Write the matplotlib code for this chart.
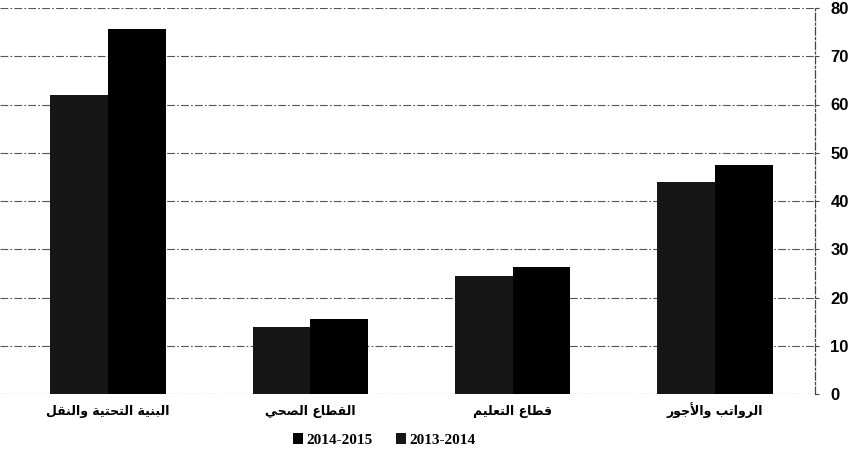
import matplotlib
matplotlib.use("Agg")
import matplotlib.pyplot as plt
import numpy as np
from matplotlib.patches import Patch

# ---------------- data (categories in original right-to-left order) ----------------
categories = ["الرواتب والأجور", "قطاع التعليم", "القطاع الصحي", "البنية التحتية والنقل"]
series_names = ["2013-2014", "2014-2015"]
values_2013_2014 = [44.0, 24.5, 13.9, 61.9]
values_2014_2015 = [47.4, 26.3, 15.6, 75.6]
y_ticks = [0, 10, 20, 30, 40, 50, 60, 70, 80]

# ---------------- simple Arabic shaping (contextual forms + visual order) ----------------
FORMS = {
    'ا': ('\uFE8D', '\uFE8E', None, None),
    'أ': ('\uFE83', '\uFE84', None, None),
    'ب': ('\uFE8F', '\uFE90', '\uFE91', '\uFE92'),
    'ة': ('\uFE93', '\uFE94', None, None),
    'ت': ('\uFE95', '\uFE96', '\uFE97', '\uFE98'),
    'ج': ('\uFE9D', '\uFE9E', '\uFE9F', '\uFEA0'),
    'ح': ('\uFEA1', '\uFEA2', '\uFEA3', '\uFEA4'),
    'ر': ('\uFEAD', '\uFEAE', None, None),
    'ص': ('\uFEB9', '\uFEBA', '\uFEBB', '\uFEBC'),
    'ط': ('\uFEC1', '\uFEC2', '\uFEC3', '\uFEC4'),
    'ع': ('\uFEC9', '\uFECA', '\uFECB', '\uFECC'),
    'ق': ('\uFED5', '\uFED6', '\uFED7', '\uFED8'),
    'ل': ('\uFEDD', '\uFEDE', '\uFEDF', '\uFEE0'),
    'م': ('\uFEE1', '\uFEE2', '\uFEE3', '\uFEE4'),
    'ن': ('\uFEE5', '\uFEE6', '\uFEE7', '\uFEE8'),
    'و': ('\uFEED', '\uFEEE', None, None),
    'ي': ('\uFEF1', '\uFEF2', '\uFEF3', '\uFEF4'),
    'لا': ('\uFEFB', '\uFEFC', None, None),
    'لأ': ('\uFEF7', '\uFEF8', None, None),
}


def shape_arabic(text):
    tokens = []
    i = 0
    while i < len(text):
        if text[i] == 'ل' and i + 1 < len(text) and text[i + 1] in 'اأ':
            tokens.append(text[i:i + 2])
            i += 2
        else:
            tokens.append(text[i])
            i += 1
    out = []
    for k, t in enumerate(tokens):
        if t not in FORMS:
            out.append(t)
            continue
        iso, fin, ini, med = FORMS[t]
        prev = tokens[k - 1] if k > 0 else None
        nxt = tokens[k + 1] if k + 1 < len(tokens) else None
        joins_prev = prev in FORMS and FORMS[prev][2] is not None
        joins_next = ini is not None and nxt in FORMS
        if joins_prev and joins_next:
            out.append(med)
        elif joins_prev:
            out.append(fin)
        elif joins_next:
            out.append(ini)
        else:
            out.append(iso)
    return ''.join(out)[::-1]


# ---------------- figure ----------------
fig = plt.figure(figsize=(8.48, 4.55), dpi=100)
ax = fig.add_axes([0.0, 1 - 394 / 455, 815 / 848, (394 - 8) / 455])

n = len(categories)
x = np.array([n - 1 - i for i in range(n)], dtype=float)  # RTL placement
w = 0.285

ax.bar(x - w / 2, values_2013_2014, width=w, color='#161616', linewidth=0, zorder=3)
ax.bar(x + w / 2, values_2014_2015, width=w, color='#000000', linewidth=0, zorder=3)

ax.set_xlim(-0.534, 3.495)
ax.set_ylim(0, 80)
ax.set_yticks(y_ticks)
ax.yaxis.tick_right()
ax.tick_params(axis='y', length=3, width=0.8, color='#444444', pad=8)
for lab in ax.get_yticklabels():
    lab.set_fontfamily(['Liberation Sans Narrow', 'Liberation Sans', 'DejaVu Sans'])
    lab.set_fontweight('bold')
    lab.set_fontsize(12)

ax.set_xticks(x)
ax.set_xticklabels([shape_arabic(c) for c in categories], fontfamily='DejaVu Sans',
                   fontweight='bold', fontsize=9)
for lab in ax.get_xticklabels():
    lab.set_verticalalignment('baseline')
ax.tick_params(axis='x', length=0, pad=15)

ax.yaxis.grid(True, color='#555555', linewidth=0.8, linestyle=(0, (7, 2, 1.5, 2)), zorder=0)
ax.set_axisbelow(True)

for s in ['left', 'top', 'bottom']:
    ax.spines[s].set_visible(False)
ax.spines['right'].set_color('#444444')
ax.spines['right'].set_linewidth(0.9)
ax.spines['right'].set_linestyle((0, (6, 2, 1.5, 2)))

handles = [Patch(facecolor='#000000', edgecolor='none'),
           Patch(facecolor='#161616', edgecolor='none')]
fig.legend(handles, [series_names[1], series_names[0]], loc='center',
           bbox_to_anchor=(384 / 848, 1 - 440 / 455), ncol=2, frameon=False,
           prop={'family': 'Liberation Serif', 'weight': 'bold', 'size': 11},
           handlelength=0.7, handleheight=0.7, handletextpad=0.2, columnspacing=1.5)

fig.savefig('out.png', dpi=100)
